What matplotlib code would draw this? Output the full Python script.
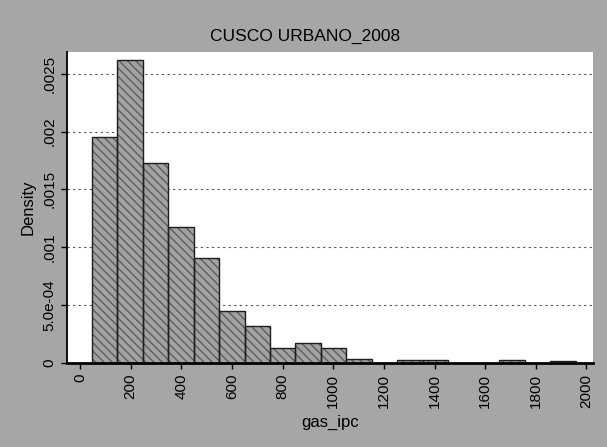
import numpy as np
import matplotlib
matplotlib.use('Agg')
import matplotlib.pyplot as plt

plt.rcParams['font.family'] = ['Liberation Sans', 'DejaVu Sans']

# histogram bins (gas_ipc) and densities
bin_start = 46
bin_width = 100.6
densities = [0.00195, 0.00262, 0.00173, 0.00117, 0.000905, 0.000442, 0.000312,
             0.000125, 0.000173, 0.000125, 0.00003, 0.0, 0.00002, 0.00002,
             0.0, 0.0, 0.00002, 0.0, 0.000012]
x_ticks = list(range(0, 2001, 200))
y_ticks = [0, 0.0005, 0.001, 0.0015, 0.002, 0.0025]
y_tick_labels = ['0', '5.0e-04', '.001', '.0015', '.002', '.0025']
title = 'CUSCO URBANO_2008'

lefts = bin_start + bin_width * np.arange(len(densities))

fig = plt.figure(figsize=(6.07, 4.47), dpi=100, facecolor='#a6a6a6')
ax = fig.add_axes([0.111, 0.189, 0.866, 0.695])
ax.set_facecolor('white')

# fondo de las barras con rayado diagonal
ax.bar(lefts, densities, width=bin_width, align='edge', color='#a2a2a2',
       hatch='\\\\\\\\', edgecolor='#5c5c5c', linewidth=0, zorder=2)
# contorno
ax.bar(lefts, densities, width=bin_width, align='edge', fill=False,
       edgecolor='#1e1e1e', linewidth=1.0, zorder=3)

ax.set_xlim(-50, 2026)
ax.set_ylim(0, 0.00269)
ax.set_xticks(x_ticks)
ax.set_xticklabels([str(t) for t in x_ticks], rotation=90, fontsize=11)
ax.set_yticks(y_ticks)
ax.set_yticklabels(y_tick_labels, rotation=90, va='center', fontsize=11)
ax.tick_params(axis='both', length=4, width=1, color='black', pad=4)

ax.grid(axis='y', linestyle=(0, (2, 3)), color='#555555', linewidth=0.8, zorder=1)
ax.set_axisbelow(True)

for s in ['top', 'right']:
    ax.spines[s].set_visible(False)
ax.spines['bottom'].set_linewidth(2)
ax.spines['left'].set_linewidth(1.3)

ax.set_xlabel('gas_ipc', fontsize=12, labelpad=5)
ax.set_ylabel('Density', fontsize=12, labelpad=5)
fig.suptitle(title, fontsize=12.5, x=0.503, y=0.919, va='center')

fig.savefig('out.png', dpi=100, facecolor=fig.get_facecolor())
